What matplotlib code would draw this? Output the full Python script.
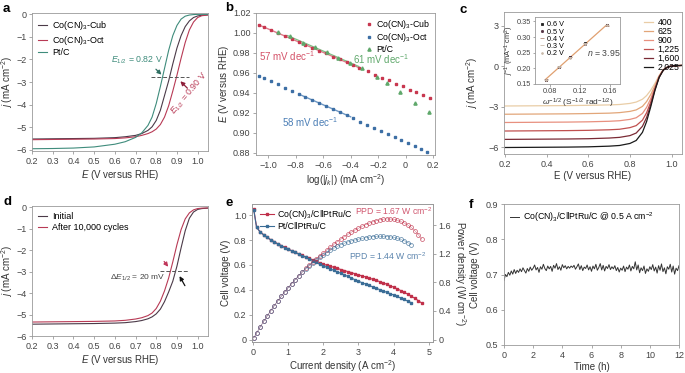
import numpy as np
import matplotlib
matplotlib.use("Agg")
import matplotlib.pyplot as plt
from matplotlib.ticker import FuncFormatter

plt.rcParams['font.family'] = ['Liberation Sans', 'DejaVu Sans']
plt.rcParams['mathtext.fontset'] = 'custom'
plt.rcParams['mathtext.rm'] = 'Liberation Sans'
plt.rcParams['mathtext.it'] = 'Liberation Sans:italic'
plt.rcParams['mathtext.bf'] = 'Liberation Sans:bold'
plt.rcParams['font.size'] = 6.5

# ---------------- data ----------------
# a: LSV curves
E_a = [0.2, 0.3, 0.4, 0.5, 0.6, 0.65, 0.7, 0.73, 0.76, 0.78, 0.8, 0.82, 0.84, 0.86, 0.88,
       0.9, 0.92, 0.94, 0.96, 0.98, 1.0, 1.02, 1.05]
j_cub = [-5.52, -5.51, -5.5, -5.49, -5.46, -5.42, -5.36, -5.28, -5.14, -4.98, -4.7, -4.25, -3.6,
         -2.95, -2.2, -1.5, -0.95, -0.55, -0.3, -0.15, -0.08, -0.05, -0.03]
j_oct = [-5.55, -5.54, -5.53, -5.52, -5.5, -5.47, -5.42, -5.36, -5.28, -5.2, -5.08, -4.88, -4.55,
         -4.05, -3.4, -2.7, -1.95, -1.25, -0.7, -0.35, -0.15, -0.07, -0.04]
j_ptc = [-5.95, -5.94, -5.92, -5.87, -5.75, -5.64, -5.45, -5.25, -4.92, -4.55, -3.95, -3.2, -2.4,
         -1.6, -0.95, -0.5, -0.22, -0.09, -0.04, -0.02, -0.01, -0.01, -0.01]

# b: Tafel plots
logj_cub = [-1.07, -1.03, -0.98, -0.93, -0.88, -0.83, -0.78, -0.73, -0.68, -0.63, -0.58, -0.53, -0.48,
            -0.43, -0.38, -0.34, -0.27, -0.22, -0.17, -0.12, -0.07, -0.02, 0.03, 0.08, 0.13, 0.18]
E_cub = [1.008, 1.006, 1.003, 1.000, 0.997, 0.994, 0.991, 0.988, 0.985, 0.982, 0.980, 0.976, 0.974,
         0.971, 0.968, 0.965, 0.962, 0.958, 0.955, 0.953, 0.949, 0.947, 0.943, 0.941, 0.938, 0.935]
logj_oct = [-1.07, -1.03, -0.98, -0.93, -0.88, -0.83, -0.78, -0.73, -0.68, -0.63, -0.58, -0.53, -0.48,
            -0.43, -0.38, -0.33, -0.28, -0.23, -0.18, -0.13, -0.08, -0.03, 0.02, 0.07, 0.11, 0.16]
E_oct = [0.957, 0.955, 0.952, 0.949, 0.945, 0.942, 0.939, 0.936, 0.933, 0.930, 0.927, 0.924, 0.921,
         0.918, 0.915, 0.911, 0.908, 0.905, 0.902, 0.899, 0.896, 0.893, 0.890, 0.887, 0.884, 0.881]
logj_pt = [-0.93, -0.84, -0.745, -0.66, -0.574, -0.49, -0.404, -0.314, -0.21, -0.136, -0.039, 0.071, 0.168]
E_pt = [1.001, 0.997, 0.990, 0.986, 0.981, 0.975, 0.970, 0.965, 0.956, 0.950, 0.941, 0.930, 0.921]

# c: rotating speeds
E_c = [0.2, 0.3, 0.4, 0.5, 0.6, 0.7, 0.75, 0.8, 0.83, 0.86, 0.88, 0.9, 0.92, 0.94, 0.96, 0.98, 1.0, 1.02, 1.05]
rpm_labels = ['400', '625', '900', '1,225', '1,600', '2,025']
j_rpm = [
    [-2.95, -2.94, -2.93, -2.92, -2.9, -2.87, -2.84, -2.76, -2.66, -2.45, -2.18, -1.78, -1.28, -0.7, -0.26, -0.07, 0.0, 0.03, 0.05],
    [-3.56, -3.55, -3.54, -3.53, -3.51, -3.48, -3.44, -3.35, -3.24, -2.98, -2.62, -2.1, -1.45, -0.75, -0.27, -0.07, 0.0, 0.03, 0.05],
    [-4.17, -4.16, -4.15, -4.14, -4.12, -4.08, -4.04, -3.94, -3.82, -3.5, -3.05, -2.4, -1.58, -0.78, -0.28, -0.08, 0.0, 0.03, 0.05],
    [-4.8, -4.79, -4.78, -4.77, -4.75, -4.71, -4.67, -4.55, -4.4, -4.0, -3.45, -2.65, -1.68, -0.8, -0.29, -0.08, 0.0, 0.03, 0.05],
    [-5.42, -5.41, -5.4, -5.39, -5.37, -5.32, -5.27, -5.14, -4.95, -4.45, -3.8, -2.85, -1.75, -0.83, -0.3, -0.08, 0.0, 0.03, 0.05],
    [-6.02, -6.01, -6.0, -5.99, -5.97, -5.92, -5.87, -5.72, -5.5, -4.9, -4.1, -3.0, -1.8, -0.85, -0.3, -0.08, 0.0, 0.03, 0.05],
]
rpm_colors = ['#e9cda6', '#e2a679', '#e8907f', '#c0504f', '#7a2a35', '#1a1a1a']

# c inset: K-L plot
omega = [0.0745, 0.0924, 0.106, 0.1266, 0.1556]
kl_labels = ['0.6 V', '0.5 V', '0.4 V', '0.3 V', '0.2 V']
kl_jinv = [
    [0.163, 0.205, 0.235, 0.280, 0.337],
    [0.164, 0.204, 0.236, 0.279, 0.338],
    [0.165, 0.203, 0.237, 0.281, 0.336],
    [0.164, 0.206, 0.236, 0.280, 0.338],
    [0.163, 0.204, 0.234, 0.279, 0.337],
]

# d: stability LSV
E_d = [0.2, 0.3, 0.4, 0.5, 0.6, 0.65, 0.7, 0.73, 0.76, 0.78, 0.8, 0.82, 0.84, 0.86, 0.88,
       0.9, 0.92, 0.94, 0.96, 0.98, 1.0, 1.02, 1.05]
j_initial = [-5.45, -5.44, -5.43, -5.42, -5.4, -5.38, -5.33, -5.28, -5.2, -5.11, -4.97, -4.75, -4.4,
             -3.95, -3.45, -2.75, -1.9, -1.1, -0.52, -0.23, -0.11, -0.07, -0.05]
j_after = [-5.35, -5.34, -5.33, -5.32, -5.3, -5.27, -5.21, -5.15, -5.05, -4.93, -4.72, -4.38, -3.9,
           -3.3, -2.55, -1.75, -1.05, -0.55, -0.27, -0.13, -0.07, -0.05, -0.04]

# e: fuel cell polarization and power density
jcell_co = [0.02, 0.1, 0.2, 0.3, 0.4, 0.5, 0.6, 0.7, 0.8, 0.9, 1.0, 1.1, 1.2, 1.3, 1.4, 1.5, 1.6,
            1.7, 1.8, 1.9, 2.0, 2.1, 2.2, 2.3, 2.4, 2.5, 2.6, 2.7, 2.8, 2.9, 3.0, 3.1, 3.2, 3.3,
            3.4, 3.5, 3.6, 3.7, 3.8, 3.9, 4.0, 4.1, 4.2, 4.3, 4.4, 4.5, 4.6, 4.7, 4.8]
V_co = [1.05, 0.905, 0.866, 0.843, 0.822, 0.803, 0.786, 0.770, 0.755, 0.741, 0.727, 0.714, 0.701,
        0.688, 0.676, 0.664, 0.652, 0.641, 0.630, 0.618, 0.606, 0.597, 0.589, 0.580, 0.572, 0.563,
        0.555, 0.546, 0.538, 0.529, 0.520, 0.512, 0.503, 0.494, 0.485, 0.476, 0.466, 0.456, 0.445,
        0.433, 0.421, 0.408, 0.394, 0.380, 0.365, 0.349, 0.332, 0.313, 0.293]
P_co = [0.021, 0.091, 0.173, 0.253, 0.329, 0.402, 0.472, 0.539, 0.604, 0.667, 0.727, 0.785, 0.841,
        0.894, 0.946, 0.996, 1.043, 1.090, 1.134, 1.174, 1.212, 1.254, 1.296, 1.334, 1.373, 1.408,
        1.443, 1.474, 1.506, 1.534, 1.560, 1.587, 1.610, 1.630, 1.649, 1.666, 1.678, 1.687, 1.691,
        1.689, 1.684, 1.673, 1.655, 1.634, 1.606, 1.571, 1.527, 1.471, 1.406]
jcell_pt = [0.02, 0.1, 0.2, 0.3, 0.4, 0.5, 0.6, 0.7, 0.8, 0.9, 1.0, 1.1, 1.2, 1.3, 1.4, 1.5, 1.6,
            1.7, 1.8, 1.9, 2.0, 2.1, 2.2, 2.3, 2.4, 2.5, 2.6, 2.7, 2.8, 2.9, 3.0, 3.1, 3.2, 3.3,
            3.4, 3.5, 3.6, 3.7, 3.8, 3.9, 4.0, 4.1, 4.2, 4.3, 4.4, 4.5]
V_pt = [1.04, 0.903, 0.865, 0.842, 0.821, 0.802, 0.785, 0.769, 0.754, 0.740, 0.726, 0.713, 0.700,
        0.687, 0.674, 0.661, 0.648, 0.634, 0.620, 0.605, 0.592, 0.580, 0.568, 0.556, 0.544, 0.532,
        0.519, 0.507, 0.494, 0.481, 0.469, 0.457, 0.446, 0.435, 0.424, 0.413, 0.402, 0.391, 0.380,
        0.369, 0.358, 0.346, 0.334, 0.322, 0.309, 0.296]
P_pt = [0.021, 0.090, 0.173, 0.253, 0.328, 0.401, 0.471, 0.538, 0.603, 0.666, 0.726, 0.784, 0.840,
        0.893, 0.944, 0.992, 1.037, 1.078, 1.116, 1.150, 1.184, 1.218, 1.250, 1.279, 1.306, 1.330,
        1.349, 1.369, 1.383, 1.395, 1.407, 1.417, 1.427, 1.436, 1.442, 1.446, 1.447, 1.447, 1.444,
        1.439, 1.432, 1.419, 1.403, 1.385, 1.360, 1.332]

# f: durability at 0.5 A cm-2 (one reading every 0.1 h)
V_time = [0.683, 0.700, 0.694, 0.706, 0.698, 0.710, 0.701, 0.714, 0.703, 0.712, 0.706,
          0.716, 0.708, 0.719, 0.711, 0.704, 0.717, 0.709, 0.721, 0.712, 0.718,
          0.727, 0.713, 0.720, 0.706, 0.722, 0.715, 0.729, 0.717, 0.711, 0.724,
          0.716, 0.723, 0.709, 0.726, 0.718, 0.731, 0.714, 0.722, 0.712, 0.728,
          0.719, 0.725, 0.716, 0.723, 0.718, 0.724, 0.720, 0.726, 0.715, 0.722,
          0.730, 0.714, 0.725, 0.711, 0.721, 0.717, 0.727, 0.713, 0.722, 0.709,
          0.724, 0.716, 0.729, 0.712, 0.720, 0.731, 0.713, 0.726, 0.710, 0.723,
          0.717, 0.728, 0.714, 0.722, 0.716, 0.725, 0.711, 0.720, 0.707, 0.718,
          0.712, 0.724, 0.708, 0.721, 0.715, 0.727, 0.710, 0.723, 0.716, 0.736,
          0.713, 0.727, 0.705, 0.719, 0.711, 0.724, 0.703, 0.716, 0.709, 0.722,
          0.714, 0.728, 0.710, 0.721, 0.704, 0.725, 0.712, 0.730, 0.708, 0.719,
          0.702, 0.722, 0.715, 0.729, 0.707, 0.724, 0.701, 0.718, 0.711, 0.725]
time_h = np.linspace(0, 12, len(V_time))

# ---------------- style helpers ----------------
DARK = '#4b3a48'
RED = '#b83a55'
TEAL = '#3f8c7c'
SPINE = '#9a9a9a'
LBL = '#333333'


def zfmt(dec):
    def f(v, pos):
        if abs(v) < 1e-9:
            return '0'
        return f'{v:.{dec}f}'.replace('-', '\u2212')
    return FuncFormatter(f)


def style(ax, size=6.5):
    for s in ax.spines.values():
        s.set_color(SPINE)
        s.set_linewidth(0.6)
    ax.tick_params(direction='out', length=2.5, width=0.6, color=SPINE,
                   labelsize=size, labelcolor='#444444', pad=1.5)


def px(l, t, r, b):
    W, H = 685.0, 373.0
    return [l / W, 1 - b / H, (r - l) / W, (b - t) / H]


fig = plt.figure(figsize=(6.85, 3.73), dpi=100)

# ---------------- a ----------------
ax = fig.add_axes(px(32, 13, 208, 151))
ax.plot(E_a, j_cub, color=DARK, lw=0.8, label='Co(CN)$_3$-Cub')
ax.plot(E_a, j_oct, color=RED, lw=0.8, label='Co(CN)$_3$-Oct')
ax.plot(E_a, j_ptc, color=TEAL, lw=0.8, label='Pt/C')
ax.plot([0.775, 0.96], [-2.8, -2.8], color='#555555', lw=0.7, ls=(0, (4, 2)))
ax.annotate('', xy=(0.835, -2.76), xytext=(0.789, -2.35),
            arrowprops=dict(arrowstyle='-|>', color='#2f6f62', lw=0.9, mutation_scale=6))
ax.text(0.58, -2.06, '$E_{1/2}$ = 0.82 V', color=TEAL, fontsize=6.3, va='center')
ax.annotate('', xy=(0.907, -2.88), xytext=(0.96, -3.36),
            arrowprops=dict(arrowstyle='-|>', color='#8e1f3a', lw=0.9, mutation_scale=6))
ax.text(0.888, -4.45, '$E_{1/2}$ = 0.90 V', color=RED, fontsize=6.3, rotation=50,
        rotation_mode='anchor')
ax.set_xlim(0.2, 1.05)
ax.set_ylim(-6.05, 0.05)
ax.set_xticks(np.arange(0.2, 1.01, 0.1))
ax.set_yticks(range(-6, 1))
ax.xaxis.set_major_formatter(zfmt(1))
ax.yaxis.set_major_formatter(zfmt(0))
ax.set_xlabel('$E$ (V versus RHE)', fontsize=7, color=LBL, labelpad=2)
ax.set_ylabel('$j$ (mA cm$^{-2}$)', fontsize=7, color=LBL, labelpad=0.5)
ax.legend(loc='upper left', fontsize=6.5, frameon=False, handlelength=1.0,
          labelspacing=0.15, borderaxespad=0.3, handletextpad=0.5)
style(ax)

# ---------------- b ----------------
ax = fig.add_axes(px(256, 13, 435, 155))
CB, CO, CG = '#c8374f', '#3d6fa5', '#5fa86b'
ax.plot(logj_cub, E_cub, 's', color=CB, ms=2.0, label='Co(CN)$_3$-Cub', zorder=3)
ax.plot(logj_oct, E_oct, 's', color=CO, ms=2.0, label='Co(CN)$_3$-Oct', zorder=3)
ax.plot(logj_pt, E_pt, '^', color=CG, ms=2.3, label='Pt/C', zorder=3)
sel = [i for i, x in enumerate(logj_cub) if x <= -0.34]
k = np.polyfit([logj_cub[i] for i in sel], [E_cub[i] for i in sel], 1)
ax.plot([-1.07, -0.34], np.polyval(k, [-1.07, -0.34]), color='#e07a8a', lw=1.0, zorder=2)
sel = [i for i, x in enumerate(logj_pt) if x <= -0.3]
k = np.polyfit([logj_pt[i] for i in sel], [E_pt[i] for i in sel], 1)
ax.plot([-0.86, -0.34], np.polyval(k, [-0.86, -0.34]), color='#7fbf86', lw=0.9, zorder=2)
sel = [i for i, x in enumerate(logj_oct) if -0.8 <= x <= -0.4]
k = np.polyfit([logj_oct[i] for i in sel], [E_oct[i] for i in sel], 1)
ax.plot([-0.76, -0.4], np.polyval(k, [-0.76, -0.4]), color='#6f98c4', lw=1.0, zorder=2)
ax.text(-1.07, 0.9765, '57 mV dec$^{-1}$', color='#d45268', fontsize=7, va='center')
ax.text(-0.38, 0.9735, '61 mV dec$^{-1}$', color='#5fa86b', fontsize=7, va='center')
ax.text(-0.90, 0.9105, '58 mV dec$^{-1}$', color='#4a7db5', fontsize=7, va='center')
ax.set_xlim(-1.09, 0.215)
ax.set_ylim(0.878, 1.02)
ax.set_xticks([-1.0, -0.8, -0.6, -0.4, -0.2, 0.0, 0.2])
ax.set_yticks(np.arange(0.88, 1.021, 0.02))
ax.xaxis.set_major_formatter(zfmt(1))
ax.yaxis.set_major_formatter(zfmt(2))
ax.set_xlabel('log(|$j_k$|) (mA cm$^{-2}$)', fontsize=7, color=LBL, labelpad=2)
ax.set_ylabel('$E$ (V versus RHE)', fontsize=7, color=LBL, labelpad=1.5)
ax.legend(loc='upper right', fontsize=6.3, frameon=False, handlelength=0.8,
          labelspacing=0.05, borderaxespad=0.15, handletextpad=0.4, markerscale=1.0)
style(ax)

# ---------------- c ----------------
ax = fig.add_axes(px(504, 12, 682, 154))
for lab, jj, col in zip(rpm_labels, j_rpm, rpm_colors):
    ax.plot(E_c, jj, color=col, lw=0.9, label=lab)
ax.set_xlim(0.195, 1.05)
ax.set_ylim(-6.5, 4.0)
ax.set_xticks([0.2, 0.4, 0.6, 0.8, 1.0])
ax.set_yticks([-6, -3, 0, 3])
ax.xaxis.set_major_formatter(zfmt(1))
ax.yaxis.set_major_formatter(zfmt(0))
ax.set_xlabel('E (V versus RHE)', fontsize=7, color=LBL, labelpad=2)
ax.set_ylabel('$j$ (mA cm$^{-2}$)', fontsize=7, color=LBL, labelpad=6)
ax.legend(loc='upper right', bbox_to_anchor=(1.03, 1.015), fontsize=6.3, frameon=False,
          handlelength=1.0, labelspacing=0.0, handletextpad=0.5)
style(ax)

ins = fig.add_axes(px(535, 17, 620, 84))
mk = [('s', '#222222', 1.8), ('o', '#553344', 1.6), ('_', '#b08a7a', 3), ('_', '#c9b9a9', 3), ('.', '#c9b9a9', 2.5)]
ins.plot(omega, np.polyval(np.polyfit(omega, kl_jinv[0], 1), omega), color='#e0a070', lw=0.9)
for lab, yy, (m, c, s) in zip(kl_labels, kl_jinv, mk):
    ins.plot(omega, yy, m, color=c, ms=s, mew=0.6, label=lab, ls='none')
ins.text(0.129, 0.25, '$n$ = 3.95', fontsize=6.3, color='#444444', va='center')
ins.set_xlim(0.06, 0.173)
ins.set_ylim(0.15, 0.364)
ins.set_xticks([0.08, 0.12, 0.16])
ins.set_yticks([0.15, 0.20, 0.25, 0.30, 0.35])
ins.xaxis.set_major_formatter(zfmt(2))
ins.yaxis.set_major_formatter(zfmt(2))
ins.set_xlabel('$\\omega^{-1/2}$ (S$^{-1/2}$ rad$^{-1/2}$)', fontsize=6, color=LBL, labelpad=1)
ins.set_ylabel('$j^{-1}$ (mA$^{-1}$ cm$^{2}$)', fontsize=5.3, color=LBL, labelpad=0.5)
ins.legend(loc='upper left', fontsize=5.2, frameon=False, handlelength=0.6,
           labelspacing=0.02, handletextpad=0.4, borderaxespad=0.2)
style(ins, size=5.3)
ins.tick_params(length=1.8, pad=1)

# ---------------- d ----------------
ax = fig.add_axes(px(32, 206, 208, 336))
ax.plot(E_d, j_initial, color=DARK, lw=0.8, label='Initial')
ax.plot(E_d, j_after, color=RED, lw=0.8, label='After 10,000 cycles')
ax.plot([0.82, 0.955], [-2.97, -2.97], color='#555555', lw=0.7, ls=(0, (4, 2)))
ax.annotate('', xy=(0.866, -2.88), xytext=(0.83, -2.43),
            arrowprops=dict(arrowstyle='-|>', color='#c0365a', lw=0.9, mutation_scale=6))
ax.annotate('', xy=(0.906, -3.1), xytext=(0.945, -3.77),
            arrowprops=dict(arrowstyle='-|>', color='#111111', lw=0.9, mutation_scale=6))
ax.text(0.575, -3.3, '$\\Delta E_{1/2}$ = 20 mV', fontsize=6, color='#444444', va='center')
ax.set_xlim(0.2, 1.05)
ax.set_ylim(-6.0, 0.05)
ax.set_xticks(np.arange(0.2, 1.01, 0.1))
ax.set_yticks(range(-6, 1))
ax.xaxis.set_major_formatter(zfmt(1))
ax.yaxis.set_major_formatter(zfmt(0))
ax.set_xlabel('$E$ (V versus RHE)', fontsize=7, color=LBL, labelpad=2)
ax.set_ylabel('$j$ (mA cm$^{-2}$)', fontsize=7, color=LBL, labelpad=0.5)
ax.legend(loc='upper left', fontsize=6.5, frameon=False, handlelength=1.0,
          labelspacing=0.15, borderaxespad=0.3, handletextpad=0.5)
style(ax)

# ---------------- e ----------------
ax = fig.add_axes(px(252, 204, 433, 342))
ER, EB = '#c0304a', '#3a6d96'
ax.plot(jcell_co, V_co, '-s', color=ER, ms=2.0, lw=0.8, label='Co(CN)$_3$/C\u2016PtRu/C', zorder=3)
ax.plot(jcell_pt, V_pt, '-s', color=EB, ms=2.0, lw=0.8, label='Pt/C\u2016PtRu/C', zorder=3)
ax.text(2.9, 1.035, 'PPD = 1.67 W cm$^{-2}$', color='#d0566e', fontsize=6.2, va='center')
ax.text(2.73, 0.672, 'PPD = 1.44 W cm$^{-2}$', color='#5b84ad', fontsize=6.2, va='center')
ax.set_xlim(-0.03, 5.12)
ax.set_ylim(-0.02, 1.09)
ax.set_xticks(range(0, 6))
ax.set_yticks([0, 0.2, 0.4, 0.6, 0.8, 1.0])
ax.yaxis.set_major_formatter(zfmt(1))
ax.set_xlabel('Current density (A cm$^{-2}$)', fontsize=7, color=LBL, labelpad=1)
ax.set_ylabel('Cell voltage (V)', fontsize=7, color=LBL, labelpad=2)
ax.legend(loc='upper left', bbox_to_anchor=(0.0, 1.03), fontsize=6.3, frameon=False,
          handlelength=1.6, labelspacing=0.1, handletextpad=0.4)
style(ax)
ax2 = ax.twinx()
ax2.plot(jcell_co, P_co, 'o', color=ER, mfc='none', ms=2.8, mew=0.5, alpha=0.85)
ax2.plot(jcell_pt, P_pt, 'o', color=EB, mfc='none', ms=2.8, mew=0.5, alpha=0.85)
ax2.plot(jcell_co, P_co, '-', color=ER, lw=0.4, alpha=0.6)
ax2.plot(jcell_pt, P_pt, '-', color=EB, lw=0.4, alpha=0.6)
ax2.set_ylim(-0.035, 1.9)
ax2.set_yticks([0, 0.4, 0.8, 1.2, 1.6])
ax2.yaxis.set_major_formatter(zfmt(1))
ax2.set_ylabel('Power density (W cm$^{-2}$)', fontsize=7, color=LBL, rotation=270, labelpad=12)
style(ax2)

# ---------------- f ----------------
ax = fig.add_axes(px(504, 204, 679, 345))
ax.plot(time_h, V_time, color='#333333', lw=0.7, label='Co(CN)$_3$/C\u2016PtRu/C @ 0.5 A cm$^{-2}$')
ax.set_xlim(0, 12)
ax.set_ylim(0.5, 0.9)
ax.set_xticks(range(0, 13, 2))
ax.set_yticks([0.5, 0.6, 0.7, 0.8, 0.9])
ax.yaxis.set_major_formatter(zfmt(1))
ax.set_xlabel('Time (h)', fontsize=7, color=LBL, labelpad=2)
ax.set_ylabel('Cell voltage (V)', fontsize=7, color=LBL, labelpad=4)
ax.legend(loc='upper left', fontsize=6.3, frameon=False, handlelength=1.0,
          borderaxespad=0.3, handletextpad=0.5)
style(ax)

# panel letters
for lab, x, y in [('a', 3, 3), ('b', 225, 2), ('c', 460, 4), ('d', 3, 196), ('e', 226, 197), ('f', 469, 199)]:
    fig.text(x / 685, 1 - y / 373, lab, fontsize=9.5, fontweight='bold', va='top', ha='left')

fig.savefig('out.png', dpi=100)
